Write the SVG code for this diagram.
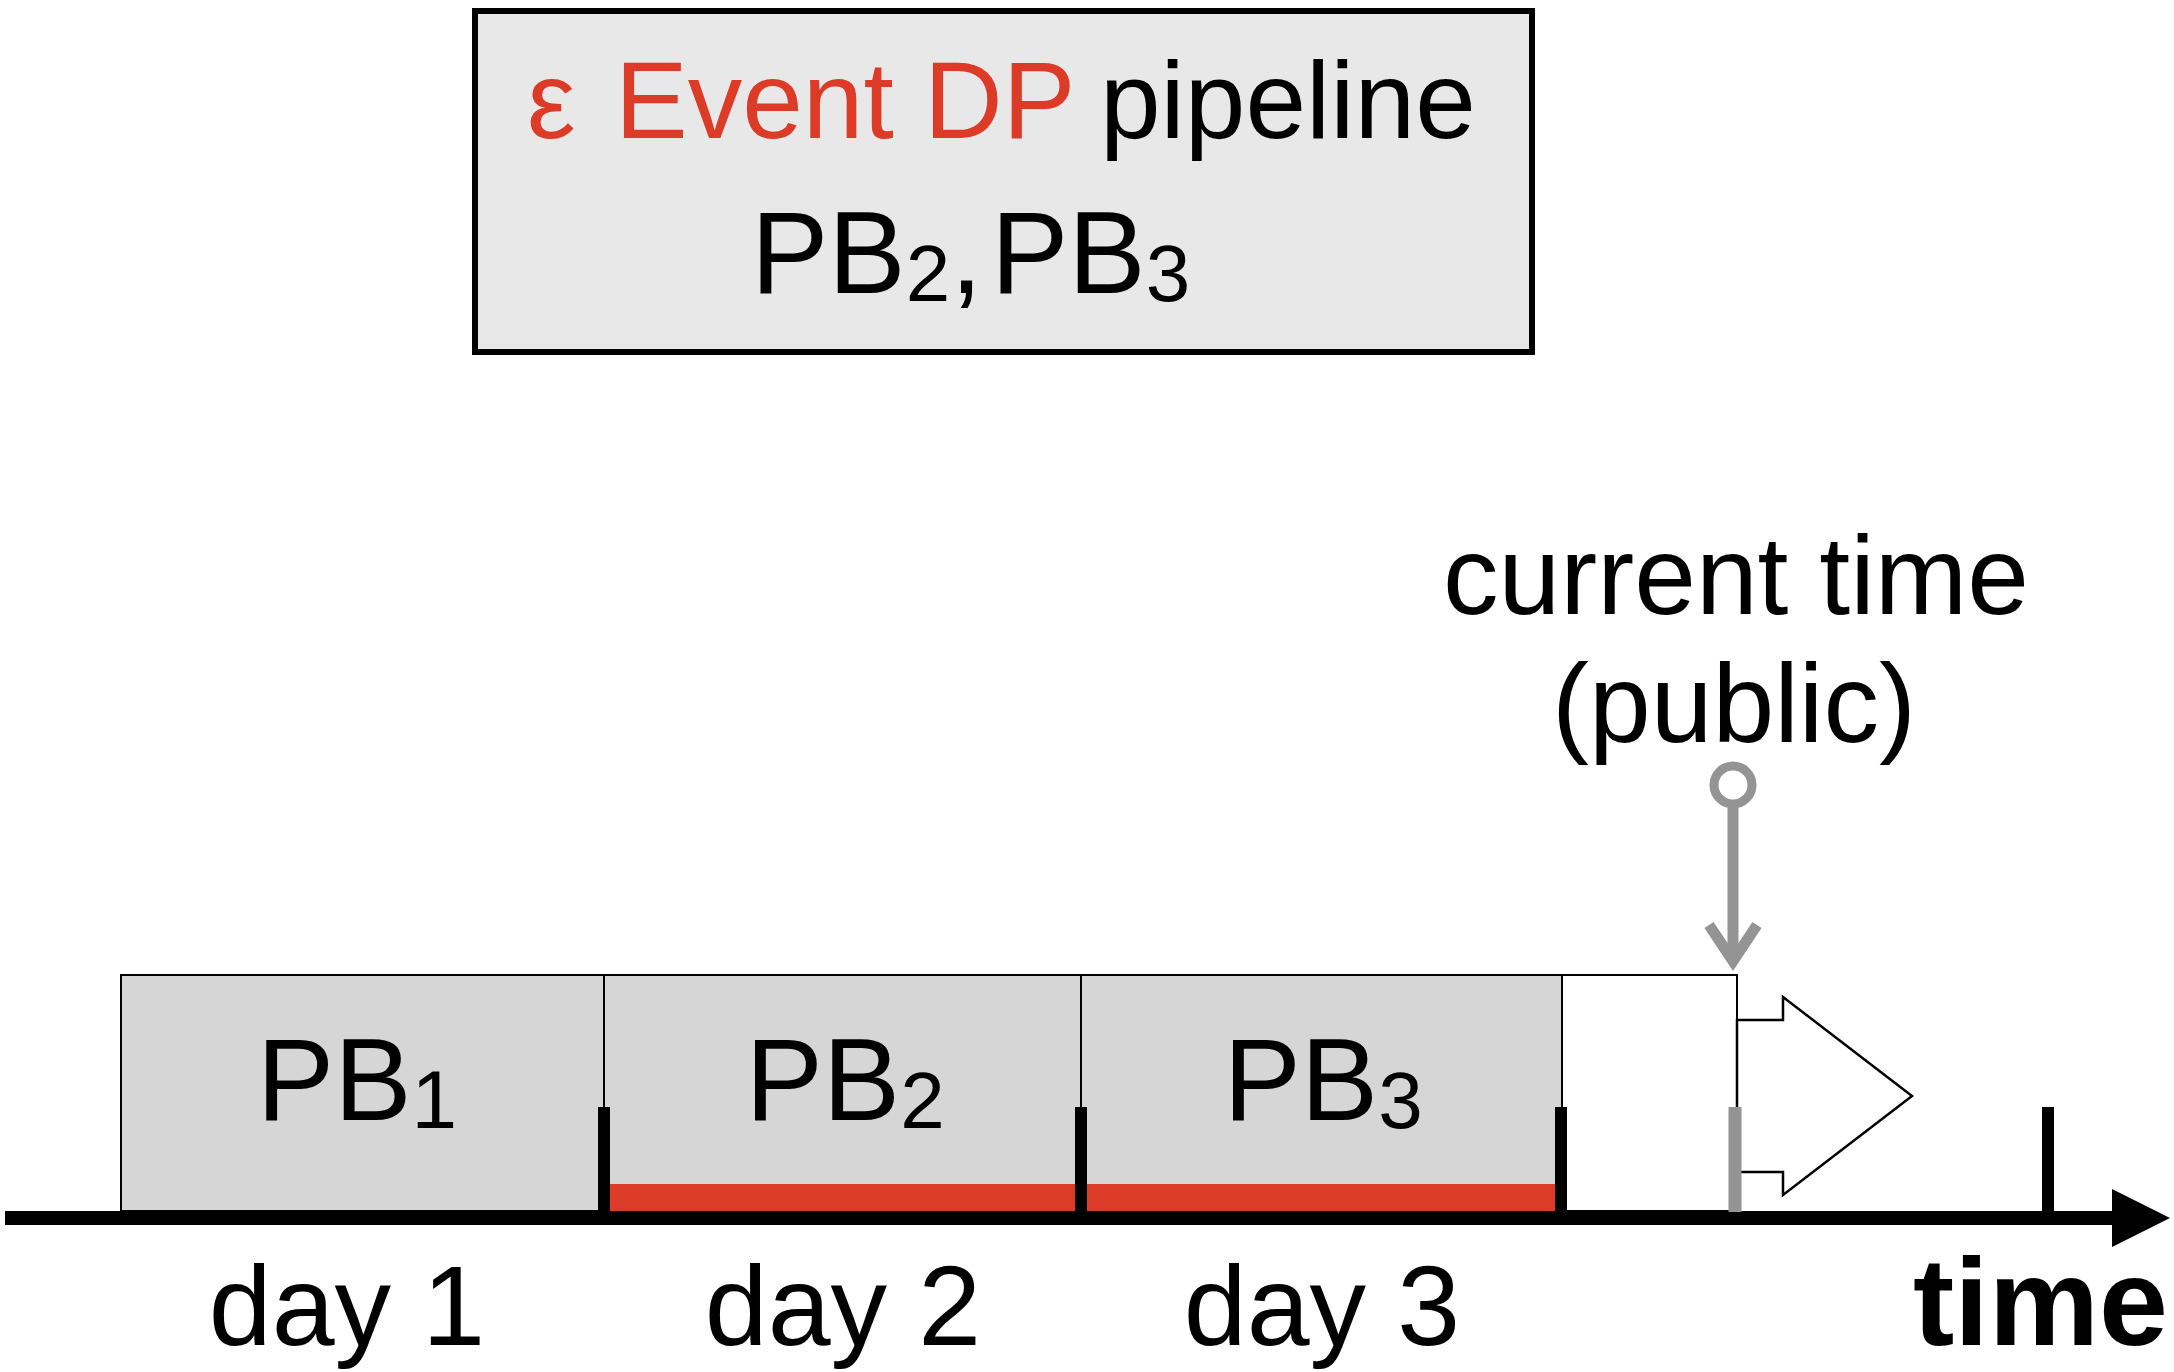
<svg xmlns="http://www.w3.org/2000/svg" width="2174" height="1372" viewBox="0 0 2174 1372">
<style>
text{font-family:"Liberation Sans",Arial,"DejaVu Sans",sans-serif;fill:#000}
.red{fill:#dc3b27}
.pb{fill:#d6d6d6;stroke:#000;stroke-width:2}
.tick{stroke:#000;stroke-width:12}
.band{fill:#dc3b27}
.big{font-size:116px}
.lbl{font-size:113px}
.grey{stroke:#949494;fill:none}
</style>
<rect width="2174" height="1372" fill="#fff"/>
<g id="title">
<rect x="475" y="11" width="1057" height="341" fill="#e8e8e8" stroke="#000" stroke-width="6"/>
<text y="138" font-size="109"><tspan class="red" x="527">ε</tspan><tspan class="red" x="615">Event</tspan><tspan class="red" x="924">DP</tspan><tspan x="1100">pipeline</tspan></text>
<text y="293" class="big"><tspan x="751">PB</tspan><tspan font-size="80" dy="8">2</tspan><tspan dy="-8">,</tspan><tspan x="991">PB</tspan><tspan font-size="80" dy="8">3</tspan></text>
</g>
<g id="pb1">
<rect class="pb" x="121" y="975" width="483" height="236"/>
<text x="357" y="1120" text-anchor="middle" class="big">PB<tspan font-size="82" dy="8">1</tspan></text>
</g>
<g id="pb2">
<rect class="pb" x="604" y="975" width="477" height="236"/>
<rect class="band" x="610" y="1184" width="465" height="27"/>
<text x="845" y="1120" text-anchor="middle" class="big">PB<tspan font-size="80" dy="8">2</tspan></text>
</g>
<g id="pb3">
<rect class="pb" x="1081" y="975" width="481" height="236"/>
<rect class="band" x="1087" y="1184" width="469" height="27"/>
<text x="1323" y="1120" text-anchor="middle" class="big">PB<tspan font-size="80" dy="8">3</tspan></text>
</g>
<g id="current-slot">
<rect x="1562" y="975" width="175" height="236" fill="#fff" stroke="#000" stroke-width="2"/>
</g>
<g id="future-arrow">
<polygon points="1737,1020 1783,1020 1783,997 1912,1096 1783,1195 1783,1172 1737,1172" fill="#fff" stroke="#000" stroke-width="2.5"/>
</g>
<g id="current-time">
<text x="1736" y="614" text-anchor="middle" font-size="111">current time</text>
<text x="1734" y="742" text-anchor="middle" font-size="111">(public)</text>
<circle cx="1733" cy="785" r="19" fill="#fff" stroke="#949494" stroke-width="9"/>
</g>
<g id="labels">
<text x="347" y="1345" text-anchor="middle" class="lbl">day 1</text>
<text x="843" y="1345" text-anchor="middle" class="lbl">day 2</text>
<text x="1322" y="1345" text-anchor="middle" class="lbl">day 3</text>
<text x="2168" y="1345" text-anchor="end" font-size="124" font-weight="bold">time</text>
</g>
<g id="connectors">
<line x1="5" y1="1218" x2="2118" y2="1218" stroke="#000" stroke-width="14"/>
<polygon points="2112,1189 2170,1218 2112,1247" fill="#000"/>
<line class="tick" x1="604" y1="1107" x2="604" y2="1212"/>
<line class="tick" x1="1081" y1="1107" x2="1081" y2="1212"/>
<line class="tick" x1="1561" y1="1107" x2="1561" y2="1212"/>
<line class="tick" x1="2048" y1="1107" x2="2048" y2="1212"/>
<line x1="1735" y1="1107" x2="1735" y2="1212" stroke="#949494" stroke-width="13"/>
<line class="grey" x1="1733" y1="808" x2="1733" y2="960" stroke-width="11"/>
<polyline class="grey" points="1709,925 1733,961 1757,925" stroke-width="11"/>
</g>
</svg>
